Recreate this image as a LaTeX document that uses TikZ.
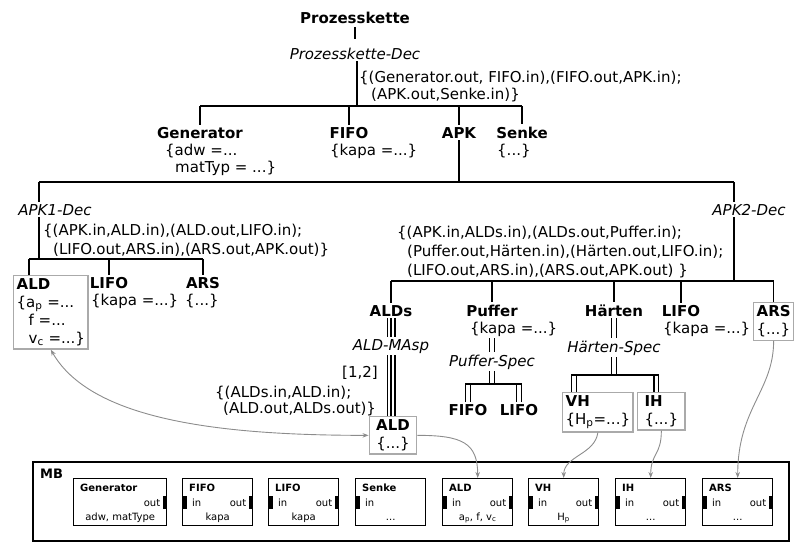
\documentclass[tikz,border=0pt]{standalone}
\usepackage{fontspec}
\setmainfont{DejaVu Sans}
\usetikzlibrary{arrows.meta,positioning,calc}
\definecolor{refgray}{RGB}{140,140,140}
\definecolor{boxgray}{RGB}{170,170,170}
\newcommand{\mpdots}{...}

\begin{document}
\begin{tikzpicture}[x=1pt, y=-1pt,
	font=\fontsize{15}{18}\selectfont,
	elem/.style={font=\fontsize{15}{18}\selectfont\bfseries, inner sep=2pt, anchor=base},
	attr/.style={inner sep=2pt, anchor=base west, align=left},
	dec/.style={font=\fontsize{15}{18}\selectfont\itshape, inner sep=2pt, anchor=base},
	conn/.style={inner sep=0pt, anchor=base west, align=left},
	tree/.style={line width=1.5pt},
	joint/.style={line width=2.2pt},
	multi/.style={line width=1.2pt, double, double distance=3.6pt},
	multiouter/.style={line width=1.2pt, double, double distance=6.6pt},
	grpbox/.style={draw=boxgray, line width=1.3pt, align=left, inner sep=3pt, anchor=north west},
	mapref/.style={draw=refgray, line width=0.9pt, -{Stealth[length=6pt,width=4.5pt]}},
	module/.style={draw, line width=1.4pt, minimum width=70pt, minimum height=47pt, inner sep=0pt, anchor=north west},
	mtext/.style={font=\fontsize{10}{12}\selectfont, inner sep=0pt, anchor=base west},
	mtitle/.style={mtext, font=\fontsize{10}{12}\selectfont\bfseries},
	mport/.style={fill=black}
]
	\useasboundingbox (0,0) rectangle (808,542);

	% Prozesskette (multi-line texts sit on their last baseline)
	\node[elem] (pk) at (355,23) {Prozesskette};
	\node[dec] (pkdec) at (355,59) {Prozesskette-Dec};
	\draw[tree, shorten <=2pt, shorten >=6pt] (pk.south) -- (pkdec.north);
	\coordinate (j0) at (357,106);
	\draw[tree] (pkdec.south -| j0) -- (j0);
	\node[conn, font=\fontsize{15}{17}\selectfont] (c0) at (359,99) {\{(Generator.out, FIFO.in),(FIFO.out,APK.in);\\\hspace*{12pt}(APK.out,Senke.in)\}};

	\node[elem] (gen) at (200,138) {Generator};
	\node[elem] (fifo) at (349,138) {FIFO};
	\node[elem] (apk) at (459,138) {APK};
	\node[elem] (senke) at (522,138) {Senke};
	\node[attr, font=\fontsize{15}{17}\selectfont] (genattr) at (163,172) {\{adw =...\\\hspace*{10pt}matTyp = ...\}};
	\node[attr] (fifoattr) at (328,155) {\{kapa =...\}};
	\node[attr] (senkeattr) at (495,155) {\{...\}};
	\draw[joint] (gen.north |- j0) -- (senke.north |- j0);
	\draw[tree] (gen.north |- j0) -- (gen.north) (fifo.north |- j0) -- (fifo.north)
		(apk.north |- j0) -- (apk.north) (senke.north |- j0) -- (senke.north);

	% APK
	\coordinate (j1) at (459,182);
	\coordinate (l1) at (39,182);
	\coordinate (r1) at (734,182);
	\draw[tree] (apk.south) -- (j1);
	\draw[joint] (l1) -- (r1);

	% APK1
	\node[dec] (apk1dec) at (55,215) {APK1-Dec};
	\node[conn, font=\fontsize{15}{18.5}\selectfont] (c1) at (43,254) {\{(APK.in,ALD.in),(ALD.out,LIFO.in);\\\hspace*{10pt}(LIFO.out,ARS.in),(ARS.out,APK.out)\}};
	\coordinate (b1) at (29,259);
	\node[grpbox] (ald1) at (13,275) {\textbf{ALD}\\\{a\textsubscript{p} =...\\\hspace*{12pt}f =...\\\hspace*{12pt}v\textsubscript{c} =...\}};
	\node[elem] (lifo1) at (109,288) {LIFO};
	\node[elem] (ars1) at (203,288) {ARS};
	\node[attr] (lifo1attr) at (89,305) {\{kapa =...\}};
	\node[attr] (ars1attr) at (183,305) {\{...\}};
	\draw[tree] (l1) -- (l1 |- apk1dec.north) (l1 |- apk1dec.south) -- (l1 |- b1);
	\draw[joint] (b1) -- (ars1.north |- b1);
	\draw[tree] (b1) -- (b1 |- ald1.north) (lifo1.north |- b1) -- (lifo1.north) (ars1.north |- b1) -- (ars1.north);

	% APK2
	\node[dec] (apk2dec) at (749,215) {APK2-Dec};
	\node[conn, font=\fontsize{15}{19}\selectfont] (c2) at (397,275) {\{(APK.in,ALDs.in),(ALDs.out,Puffer.in);\\\hspace*{10pt}(Puffer.out,H\"arten.in),(H\"arten.out,LIFO.in);\\\hspace*{10pt}(LIFO.out,ARS.in),(ARS.out,APK.out) \}};
	\coordinate (b2) at (390,281);
	\node[elem] (alds) at (391,316) {ALDs};
	\node[elem] (puffer) at (492,316) {Puffer};
	\node[elem] (haerten) at (614,316) {H\"arten};
	\node[elem] (lifo2) at (681,316) {LIFO};
	\node[grpbox] (ars2) at (753,302) {\textbf{ARS}\\\{...\}};
	\node[attr] (pufferattr) at (468,333) {\{kapa =...\}};
	\node[attr] (lifo2attr) at (661,333) {\{kapa =...\}};
	\draw[tree] (r1) -- (r1 |- apk2dec.north) (r1 |- apk2dec.south) -- (r1 |- b2);
	\draw[joint] (alds.north |- b2) -- (ars2.north |- b2);
	\draw[tree] (alds.north |- b2) -- (alds.north) (puffer.north |- b2) -- (puffer.north)
		(haerten.north |- b2) -- (haerten.north) (lifo2.north |- b2) -- (lifo2.north)
		(ars2.north |- b2) -- (ars2.north);

	% ALDs
	\node[dec] (aldmasp) at (391,350) {ALD-MAsp};
	\node[grpbox, anchor=north, align=center, inner xsep=7pt] (ald2) at (393,416) {\textbf{ALD}\\\{...\}};
	\node[conn, anchor=base east] (mult) at (378,377) {[1,2]};
	\node[conn, font=\fontsize{15}{16}\selectfont] (c3) at (215,413) {\{(ALDs.in,ALD.in);\\\hspace*{8pt}(ALD.out,ALDs.out)\}};
	\draw[multiouter] (alds.south) -- (aldmasp.north);
	\draw[tree, line width=1.2pt] (alds.south) -- (aldmasp.north);
	\draw[multiouter] (aldmasp.south) -- (aldmasp.south |- ald2.north);
	\draw[tree, line width=1.2pt] (aldmasp.south) -- (aldmasp.south |- ald2.north);

	% Puffer
	\node[dec] (pspec) at (492,366) {Puffer-Spec};
	\coordinate (b3) at (492,384);
	\node[elem] (fifo2) at (468,415) {FIFO};
	\node[elem] (lifo3) at (519,415) {LIFO};
	\draw[multi] (pufferattr.south -| puffer) -- (pspec.north);
	\draw[multi] (pspec.south) -- (b3);
	\draw[multi] (fifo2.north |- b3) -- (fifo2.north);
	\draw[multi] (lifo3.north |- b3) -- (lifo3.north);
	\draw[joint] ($(fifo2.north |- b3)+(-3,0)$) -- ($(lifo3.north |- b3)+(3,0)$);

	% Haerten
	\node[dec] (hspec) at (614,352) {H\"arten-Spec};
	\coordinate (b4) at (614,375);
	\node[grpbox] (vh) at (562,392) {\textbf{VH}\\\{H\textsubscript{p}=...\}};
	\node[grpbox, inner xsep=7pt] (ih) at (637,392) {\textbf{IH}\\\{...\}};
	\coordinate (vhdrop) at ($(vh.north west)+(12,0)$);
	\coordinate (ihdrop) at ($(ih.north)+(-5,0)$);
	\draw[multi] (haerten.south) -- (hspec.north);
	\draw[multi] (hspec.south) -- (b4);
	\draw[multi] (vhdrop |- b4) -- (vhdrop);
	\draw[multi] (ihdrop |- b4) -- (ihdrop);
	\draw[joint] ($(vhdrop |- b4)+(-3,0)$) -- ($(ihdrop |- b4)+(3,0)$);

	% MB
	\node[draw, line width=1.8pt, minimum width=756pt, minimum height=79pt, inner sep=0pt, anchor=north west] (mb) at (32,461) {};
	\node[elem, font=\fontsize{13}{15}\selectfont\bfseries, anchor=north west] (mblabel) at ($(mb.north west)+(6,6)$) {MB};

	\node[module, minimum width=93pt] (mgen) at (73,478) {};
	\node[mtitle] (mgen-t) at ($(mgen.north west)+(7,13)$) {Generator};
	\node[mtext, anchor=base east] (mgen-out) at ($(mgen.north east)+(-7,28)$) {out};
	\node[mtext, anchor=base] (mgen-p) at ($(mgen.north)+(0,42)$) {adw, matType};
	\fill[mport] ($(mgen.north east)+(-4.5,18)$) rectangle ($(mgen.north east)+(0,31)$);

	\node[module] (msenke) at (355,478) {};
	\node[mtitle] (msenke-t) at ($(msenke.north west)+(7,13)$) {Senke};
	\node[mtext] (msenke-in) at ($(msenke.north west)+(10,28)$) {in};
	\node[mtext, anchor=base] (msenke-p) at ($(msenke.north)+(0,42)$) {\mpdots};
	\fill[mport] ($(msenke.north west)+(0,18)$) rectangle ($(msenke.north west)+(4.5,31)$);

	\foreach \mname/\mx/\mtit/\mpar in {mfifo/182/FIFO/kapa, mlifo/268/LIFO/kapa,
		mald/442/ALD/{a\textsubscript{p}, f, v\textsubscript{c}}, mvh/528/VH/H\textsubscript{p},
		mih/615/IH/\mpdots, mars/702/ARS/\mpdots}{
		\node[module] (\mname) at (\mx,478) {};
		\node[mtitle] (\mname-t) at ($(\mname.north west)+(7,13)$) {\mtit};
		\node[mtext] (\mname-in) at ($(\mname.north west)+(10,28)$) {in};
		\node[mtext, anchor=base east] (\mname-out) at ($(\mname.north east)+(-7,28)$) {out};
		\node[mtext, anchor=base] (\mname-p) at ($(\mname.north)+(0,42)$) {\mpar};
		\fill[mport] ($(\mname.north west)+(0,18)$) rectangle ($(\mname.north west)+(4.5,31)$);
		\fill[mport] ($(\mname.north east)+(-4.5,18)$) rectangle ($(\mname.north east)+(0,31)$);
	}

	% mappings
	\draw[mapref, {Stealth[length=6pt,width=4.5pt]}-{Stealth[length=6pt,width=4.5pt]}] (ald1.south) .. controls +(40,70) and +(-150,0) .. (ald2.west);
	\draw[mapref] (ald2.east) .. controls +(45,0) and +(0,-35) .. (mald.north);
	\draw[mapref] (vh.south) .. controls +(-3,22) and +(0,-22) .. (mvh.north);
	\draw[mapref] (ih.south) .. controls +(0,25) and +(0,-25) .. (mih.north);
	\draw[mapref] (ars2.south) .. controls +(0,50) and +(0,-70) .. (mars.north);
\end{tikzpicture}
\end{document}
